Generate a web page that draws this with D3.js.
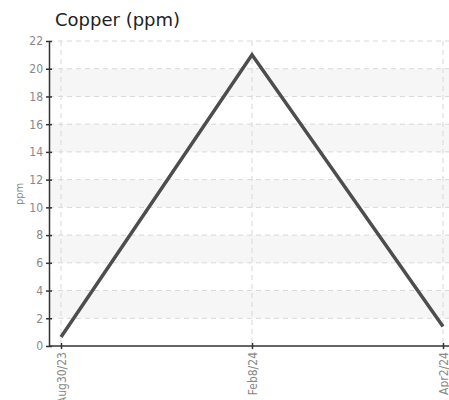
<!DOCTYPE html>
<html>
<head>
<meta charset="UTF-8">
<script src="https://cdn.jsdelivr.net/npm/d3@7"></script>
<style>
body, html { margin: 0; padding: 0; background: #fff; }
.axis text { font: 12px "DejaVu Sans Condensed", "DejaVu Sans", sans-serif; fill: #888; }
.axis path, .axis line { stroke: #333; stroke-width: 1.5; }
</style>
</head>
<body>
<div class="chart"></div>
<script>
var dates = ["Aug30/23", "Feb8/24", "Apr2/24"];
var copper = [0.65, 21.0, 1.4];
var yTicks = [0, 2, 4, 6, 8, 10, 12, 14, 16, 18, 20, 22];

var W = 449, H = 400;
var plotLeft = 49, plotTop = 41, plotBottom = 346;

var svg = d3.select(".chart").append("svg")
    .attr("width", W).attr("height", H);

var x = d3.scalePoint().domain(dates).range([61, 443]);
var y = d3.scaleLinear().domain([0, 22]).range([plotBottom, plotTop]);

// alternating bands
for (var i = 0; i + 1 < yTicks.length; i++) {
    if (i % 2 == 1) {
        svg.append("rect")
            .attr("x", plotLeft).attr("width", W - plotLeft)
            .attr("y", y(yTicks[i + 1]))
            .attr("height", y(yTicks[i]) - y(yTicks[i + 1]))
            .attr("fill", "#f6f6f6");
    }
}

// grid
svg.selectAll(".hgrid").data(yTicks.slice(1)).enter().append("line")
    .attr("x1", plotLeft).attr("x2", W)
    .attr("y1", function(d) { return y(d); })
    .attr("y2", function(d) { return y(d); })
    .attr("stroke", "#d8d8d8").attr("stroke-dasharray", "5,4");

svg.selectAll(".vgrid").data(dates).enter().append("line")
    .attr("x1", function(d) { return x(d); })
    .attr("x2", function(d) { return x(d); })
    .attr("y1", plotTop).attr("y2", plotBottom)
    .attr("stroke", "#d8d8d8").attr("stroke-dasharray", "5,4");

// line
svg.append("path")
    .datum(copper)
    .attr("fill", "none")
    .attr("stroke", "#4d4d4d")
    .attr("stroke-width", 3.5)
    .attr("d", d3.line()
        .x(function(d, i) { return x(dates[i]); })
        .y(function(d) { return y(d); }));

// axes
svg.append("g")
    .attr("class", "axis")
    .attr("transform", "translate(" + plotLeft + ",0)")
    .call(d3.axisLeft(y).tickValues(yTicks).tickSize(3).tickSizeOuter(0))
    .call(function(g) {
        g.selectAll(".tick line").attr("x1", 3).attr("x2", -3);
        g.selectAll(".tick text").attr("x", -6);
    });

svg.append("line")
    .attr("x1", plotLeft).attr("x2", W)
    .attr("y1", plotBottom).attr("y2", plotBottom)
    .attr("stroke", "#333").attr("stroke-width", 1.5);

var xa = svg.append("g")
    .attr("class", "axis")
    .attr("transform", "translate(0," + plotBottom + ")")
    .call(d3.axisBottom(x).tickSize(3).tickSizeOuter(0));
xa.select(".domain").remove();
xa.selectAll(".tick line").attr("y1", -3).attr("y2", 3);
xa.selectAll(".tick text")
    .attr("transform", "rotate(-90)")
    .attr("x", -6).attr("y", 0).attr("dy", "0.35em")
    .style("text-anchor", "end");

// title and y label
svg.append("text")
    .attr("x", 55).attr("y", 26)
    .attr("font-family", "DejaVu Sans, sans-serif")
    .attr("font-size", 18)
    .attr("fill", "#222")
    .text("Copper (ppm)");

svg.append("text")
    .attr("transform", "translate(23,194) rotate(-90)")
    .attr("text-anchor", "middle")
    .attr("font-family", "DejaVu Sans Condensed, DejaVu Sans, sans-serif")
    .attr("font-size", 11)
    .attr("fill", "#888")
    .text("ppm");
</script>
</body>
</html>
